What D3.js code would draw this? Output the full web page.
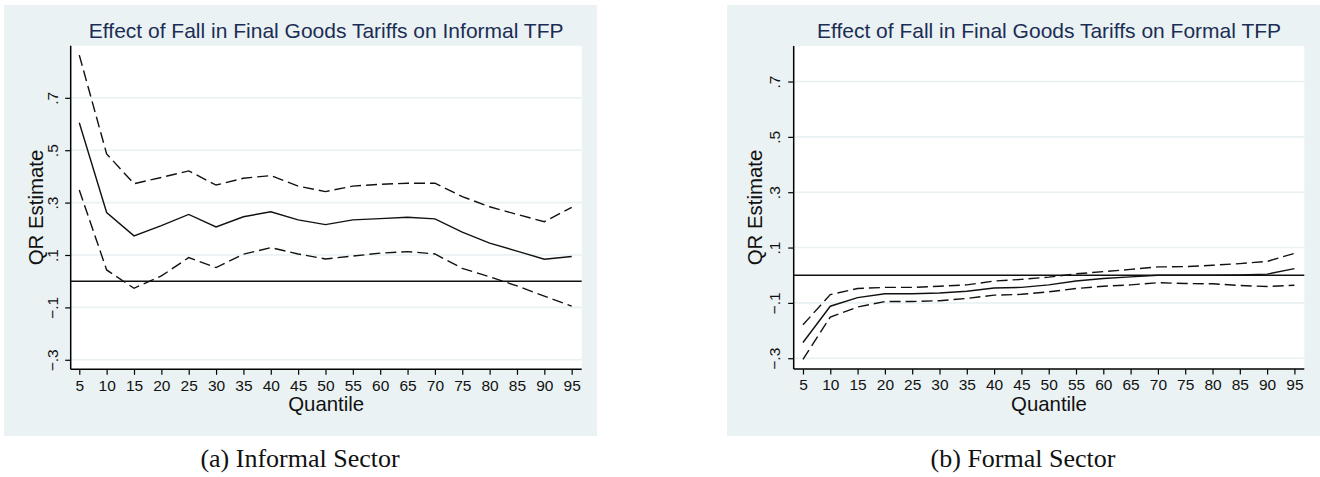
<!DOCTYPE html>
<html>
<head>
<meta charset="utf-8">
<script src="https://cdn.jsdelivr.net/npm/d3@7"></script>
<style>
  html, body { margin: 0; padding: 0; background: #ffffff; }
  svg { display: block; }
  text { font-family: "Liberation Sans", Arial, Helvetica, sans-serif; }
</style>
</head>
<body>
<svg id="chart" width="1320" height="477"></svg>
<script>
// ---------------- DATA ----------------
const quantiles = [5,10,15,20,25,30,35,40,45,50,55,60,65,70,75,80,85,90,95];
const xTickLabels = ["5","10","15","20","25","30","35","40","45","50","55","60","65","70","75","80","85","90","95"];
const yTickValues = [-0.3, -0.1, 0.1, 0.3, 0.5, 0.7];
const yTickLabels = ["\u2212.3", "\u2212.1", ".1", ".3", ".5", ".7"];

const informalEstimate = [0.605,0.262,0.173,0.212,0.255,0.207,0.246,0.265,0.234,0.216,0.234,0.239,0.244,0.238,0.187,0.145,0.115,0.084,0.094];
const informalUpper    = [0.863,0.486,0.372,0.396,0.421,0.367,0.393,0.403,0.363,0.342,0.363,0.370,0.374,0.374,0.323,0.284,0.255,0.227,0.282];
const informalLower    = [0.348,0.043,-0.027,0.020,0.090,0.052,0.103,0.128,0.104,0.085,0.096,0.107,0.113,0.104,0.049,0.017,-0.018,-0.057,-0.095];

const formalEstimate = [-0.243,-0.112,-0.081,-0.067,-0.067,-0.064,-0.058,-0.046,-0.044,-0.035,-0.021,-0.012,-0.006,0.000,0.000,0.000,0.001,0.004,0.024];
const formalUpper    = [-0.179,-0.070,-0.048,-0.044,-0.044,-0.040,-0.035,-0.021,-0.015,-0.007,0.005,0.013,0.021,0.030,0.031,0.036,0.042,0.050,0.079];
const formalLower    = [-0.304,-0.151,-0.115,-0.095,-0.095,-0.092,-0.084,-0.072,-0.069,-0.060,-0.048,-0.040,-0.035,-0.027,-0.030,-0.031,-0.037,-0.041,-0.036];

const titles = ["Effect of Fall in Final Goods Tariffs on Informal TFP",
                "Effect of Fall in Final Goods Tariffs on Formal TFP"];
const captions = ["(a) Informal Sector", "(b) Formal Sector"];
const yAxisTitle = "QR Estimate";
const xAxisTitle = "Quantile";

// ---------------- LAYOUT ----------------
const panels = [
  { bg: [4, 5, 597, 436], plot: [70.7, 45.7, 581.7, 369.3],
    xDomain: [3.43, 96.83], yDomain: [-0.3363, 0.8989],
    est: informalEstimate, up: informalUpper, lo: informalLower,
    title: titles[0], caption: captions[0], captionX: 300,
    yTickLabelX: 58.3, yTitleX: 42.7 },
  { bg: [727, 5, 1320, 436], plot: [793.7, 46, 1304.3, 369],
    xDomain: [3.30, 96.81], yDomain: [-0.3389, 0.8284],
    est: formalEstimate, up: formalUpper, lo: formalLower,
    title: titles[1], caption: captions[1], captionX: 1023,
    yTickLabelX: 780, yTitleX: 761.7 }
];

const svg = d3.select("#chart");
const bgColor = "#eaf2f3";
const gridColor = "#e9f1f2";
const titleColor = "#1c2d55";

panels.forEach(p => {
  const [bx0, by0, bx1, by1] = p.bg;
  const [px0, py0, px1, py1] = p.plot;
  const g = svg.append("g");

  g.append("rect").attr("x", bx0).attr("y", by0)
    .attr("width", bx1 - bx0).attr("height", by1 - by0).attr("fill", bgColor);
  g.append("rect").attr("x", px0).attr("y", py0)
    .attr("width", px1 - px0).attr("height", py1 - py0).attr("fill", "#ffffff");

  const x = d3.scaleLinear().domain(p.xDomain).range([px0, px1]);
  const y = d3.scaleLinear().domain(p.yDomain).range([py1, py0]);

  // gridlines
  g.selectAll(".grid").data(yTickValues).enter().append("line")
    .attr("x1", px0).attr("x2", px1)
    .attr("y1", d => y(d)).attr("y2", d => y(d))
    .attr("stroke", gridColor).attr("stroke-width", 1.6);

  // x axis
  const xAxis = d3.axisBottom(x).tickValues(quantiles)
    .tickFormat((d, i) => xTickLabels[i]).tickSize(5.5).tickSizeOuter(0).tickPadding(4);
  const gx = g.append("g").attr("transform", `translate(0,${py1})`).call(xAxis);
  gx.select(".domain").attr("stroke", "#000").attr("stroke-width", 1.5)
    .attr("d", `M${px0},0H${px1}`);
  gx.selectAll(".tick line").attr("stroke", "#000").attr("stroke-width", 1.2);
  gx.selectAll(".tick text").attr("font-size", 15.5).attr("fill", "#111")
    .attr("y", 21.4).attr("dy", 0)
    .style("font-family", '"Liberation Sans", Arial, sans-serif');

  // y axis
  const yAxis = d3.axisLeft(y).tickValues(yTickValues)
    .tickFormat((d, i) => yTickLabels[i]).tickSize(5.5).tickSizeOuter(0);
  const gy = g.append("g").attr("transform", `translate(${px0},0)`).call(yAxis);
  gy.select(".domain").attr("stroke", "#000").attr("stroke-width", 1.5)
    .attr("d", `M0,${py0}V${py1}`);
  gy.selectAll(".tick line").attr("stroke", "#000").attr("stroke-width", 1.2);
  gy.selectAll(".tick text")
    .attr("x", null).attr("dy", null)
    .attr("text-anchor", "middle").attr("font-size", 15.5).attr("fill", "#111")
    .attr("transform", `translate(${p.yTickLabelX - px0},0) rotate(-90)`)
    .style("font-family", '"Liberation Sans", Arial, sans-serif');

  // zero line
  g.append("line").attr("x1", px0).attr("x2", px1)
    .attr("y1", y(0)).attr("y2", y(0))
    .attr("stroke", "#111").attr("stroke-width", 1.6);

  const line = d3.line().x((d, i) => x(quantiles[i])).y(d => y(d));

  g.append("path").datum(p.up).attr("d", line).attr("fill", "none")
    .attr("stroke", "#111").attr("stroke-width", 1.4).attr("stroke-dasharray", "11,5");
  g.append("path").datum(p.lo).attr("d", line).attr("fill", "none")
    .attr("stroke", "#111").attr("stroke-width", 1.4).attr("stroke-dasharray", "11,5");
  g.append("path").datum(p.est).attr("d", line).attr("fill", "none")
    .attr("stroke", "#111").attr("stroke-width", 1.4);

  // titles
  g.append("text").attr("x", (px0 + px1) / 2).attr("y", 37.5)
    .attr("text-anchor", "middle").attr("font-size", 21).attr("fill", titleColor)
    .text(p.title);

  g.append("text").attr("x", (px0 + px1) / 2).attr("y", 411)
    .attr("text-anchor", "middle").attr("font-size", 20.4).attr("fill", "#111")
    .text(xAxisTitle);

  g.append("text")
    .attr("transform", `translate(${p.yTitleX},${(py0 + py1) / 2}) rotate(-90)`)
    .attr("text-anchor", "middle").attr("font-size", 20.4).attr("fill", "#111")
    .text(yAxisTitle);

  // caption
  svg.append("text").attr("x", p.captionX).attr("y", 467)
    .attr("text-anchor", "middle").attr("font-size", 26)
    .style("font-family", '"Liberation Serif", "Times New Roman", serif')
    .attr("fill", "#111").text(p.caption);
});
</script>
</body>
</html>
